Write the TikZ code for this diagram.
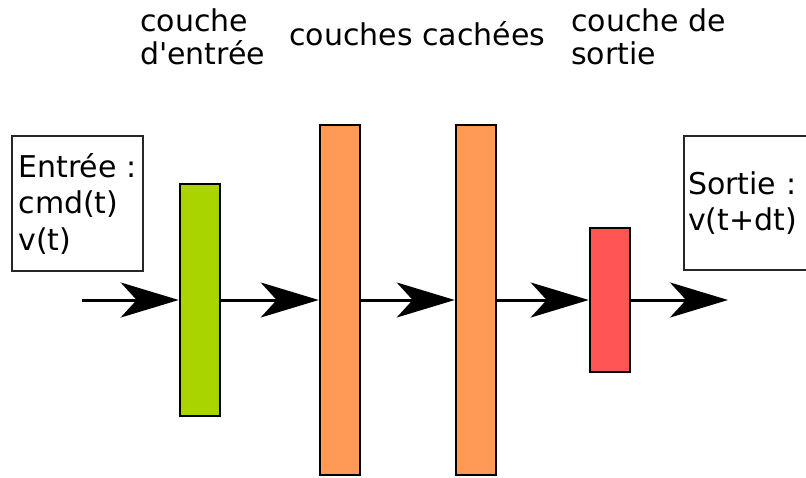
\documentclass[tikz,border=0pt]{standalone}
\usepackage{fontspec}
\setmainfont{DejaVu Sans}
\usetikzlibrary{arrows.meta}
\definecolor{lgreen}{RGB}{170,212,0}
\definecolor{lorange}{RGB}{255,153,85}
\definecolor{lred}{RGB}{255,85,85}
\tikzset{
  bar/.style={draw=black, line width=2.6pt, rectangle, minimum width=40pt, inner sep=0pt},
  flow/.style={line width=3pt, -{Stealth[length=58pt,width=35pt,inset=16pt]}},
  infobox/.style={draw=black!85, line width=1.4pt, rectangle, align=left, inner ysep=0pt,
    font=\fontsize{30}{36.5}\selectfont},
  title/.style={anchor=base west, inner sep=0pt, align=left,
    font=\fontsize{30}{33}\selectfont}
}
\begin{document}
\begin{tikzpicture}[x=1pt,y=-1pt]
\useasboundingbox (0,0) rectangle (806,477);
% titles (anchored at the baseline of the last line)
\node[title] (t1) at (140,64) {couche\\d\textquotesingle entrée};
\node[title] (t2) at (289,45) {couches cachées};
\node[title] (t3) at (571,64.5) {couche de\\sortie};
% boxes
\node[infobox, minimum width=131pt, inner xsep=0pt, minimum height=135pt] (inbox) at (77.5,203.5) {Entrée :\\cmd(t)\\v(t)};
\node[infobox, text width=140pt, inner xsep=4pt, minimum height=134pt] (outbox) at (758,203) {Sortie :\\v(t+dt)};
% bars
\node[bar, fill=lgreen, minimum height=232pt] (lin) at (200,300) {};
\node[bar, fill=lorange, minimum height=350pt] (h1) at (340,300) {};
\node[bar, fill=lorange, minimum height=350pt] (h2) at (476,300) {};
\node[bar, fill=lred, minimum height=144pt] (lout) at (610,300) {};
% arrows
\coordinate (s) at (82,300);
\coordinate (e) at (728,300);
\draw[flow] (s) -- (lin.west);
\draw[flow] (lin.east) -- (h1.west);
\draw[flow] (h1.east) -- (h2.west);
\draw[flow] (h2.east) -- (lout.west);
\draw[flow] (lout.east) -- (e);
\end{tikzpicture}
\end{document}
